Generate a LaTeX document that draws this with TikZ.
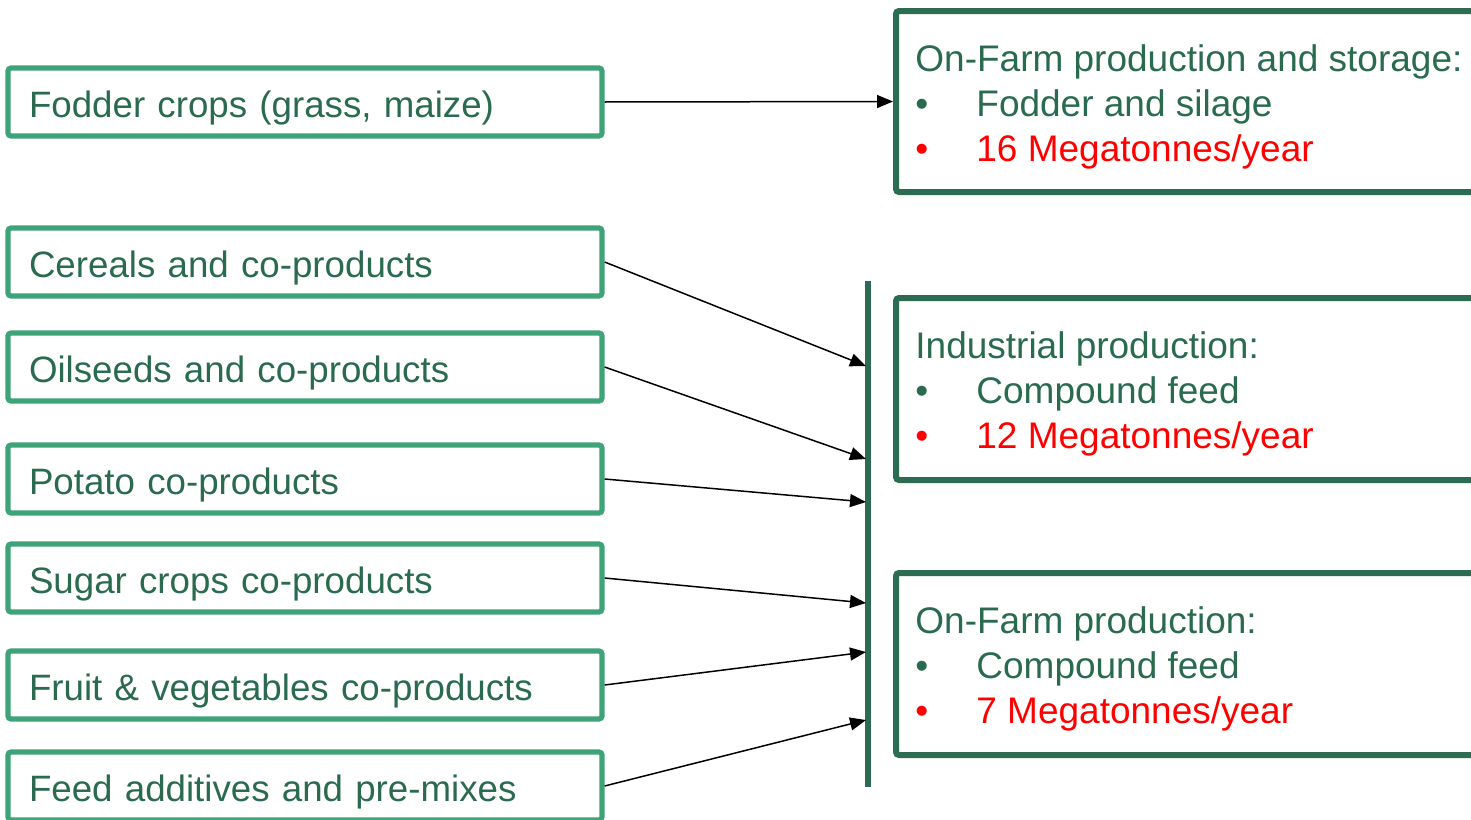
\documentclass[tikz,border=0pt]{standalone}
\usepackage{fontspec}
\setmainfont{Liberation Sans}
\usetikzlibrary{arrows.meta}
\definecolor{lgreen}{HTML}{3FA37A}
\definecolor{dgreen}{HTML}{2C6C52}
\definecolor{tgreen}{HTML}{2A6B50}
\definecolor{myred}{HTML}{FF0000}
\begin{document}
\begin{tikzpicture}[x=0.5pt,y=-0.5pt,
  lbox/.style={draw=lgreen,line width=2.6pt,rounded corners=1.5pt,minimum width=297pt,minimum height=34pt,
    text width=276pt,align=left,inner xsep=10.5pt,inner ysep=0pt,text height=15pt,text depth=0pt,
    text=tgreen,font=\fontsize{18.35}{22}\selectfont},
  rbox/.style={draw=dgreen,line width=3pt,rounded corners=1.5pt,minimum width=312pt,inner sep=0pt},
  rtxt/.style={anchor=base west,inner sep=0pt,text=tgreen,font=\fontsize{18.5}{22}\selectfont},
  rred/.style={rtxt,text=myred},
  arr/.style={-{Triangle[length=8pt,width=6.5pt]},line width=0.75pt,black}]
\useasboundingbox (0,0) rectangle (1471,819);
% left boxes
\node[lbox] (f) at (305,102) {Fodder crops (grass, maize)};
\node[lbox] (c) at (305,262) {Cereals and co-products};
\node[lbox] (o) at (305,367) {Oilseeds and co-products};
\node[lbox] (p) at (305,479) {Potato co-products};
\node[lbox] (s) at (305,578) {Sugar crops co-products};
\node[lbox] (v) at (305,685) {Fruit \& vegetables co-products};
\node[lbox] (a) at (305,786) {Feed additives and pre-mixes};
% right boxes
\node[rbox,minimum height=90.5pt] (A) at (1208,101.5) {};
\node[rbox,minimum height=91pt] (B) at (1208,389) {};
\node[rbox,minimum height=91pt] (C) at (1208,664) {};
% text in right boxes
\node[rtxt] (a1) at (915,71) {On-Farm production and storage:};
\node[rtxt] (a2b) at (915,116) {•};
\node[rtxt] (a2) at (976,116) {Fodder and silage};
\node[rred] (a3b) at (915,161) {•};
\node[rred] (a3) at (976,161) {16 Megatonnes/year};
\node[rtxt] (b1) at (915,358) {Industrial production:};
\node[rtxt] (b2b) at (915,403) {•};
\node[rtxt] (b2) at (976,403) {Compound feed};
\node[rred] (b3b) at (915,448) {•};
\node[rred] (b3) at (976,448) {12 Megatonnes/year};
\node[rtxt] (c1) at (915,633) {On-Farm production:};
\node[rtxt] (c2b) at (915,678) {•};
\node[rtxt] (c2) at (976,678) {Compound feed};
\node[rred] (c3b) at (915,723) {•};
\node[rred] (c3) at (976,723) {7 Megatonnes/year};
% vertical bar
\coordinate (bt) at (868,281);
\coordinate (bb) at (868,787);
\draw[dgreen,line width=2.6pt] (bt) -- (bb);
\coordinate (e1) at (866,366);
\coordinate (e2) at (866,459);
\coordinate (e3) at (866,502);
\coordinate (e4) at (866,603);
\coordinate (e5) at (866,652);
\coordinate (e6) at (866,720);
% arrows
\draw[arr] (f.east) -- (A.west);
\draw[arr] (c.east) -- (e1);
\draw[arr] (o.east) -- (e2);
\draw[arr] (p.east) -- (e3);
\draw[arr] (s.east) -- (e4);
\draw[arr] (v.east) -- (e5);
\draw[arr] (a.east) -- (e6);
\end{tikzpicture}
\end{document}
